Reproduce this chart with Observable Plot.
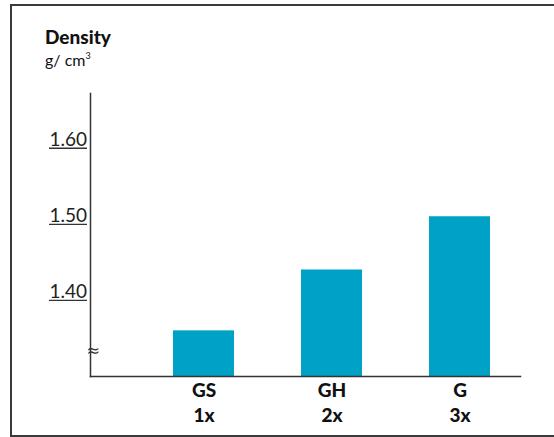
<!DOCTYPE html>
<html>
<head>
<meta charset="utf-8">
<script src="https://cdn.jsdelivr.net/npm/d3@7"></script>
<script src="https://cdn.jsdelivr.net/npm/@observablehq/plot@0.6"></script>
<style>
  html, body { margin: 0; padding: 0; background: #fff; }
  #wrap { position: relative; width: 554px; height: 437px; overflow: hidden; font-family: Lato, "Noto Sans", sans-serif; color: #111; }
  #border { position: absolute; left: 10px; top: 4px; width: 560px; height: 429px; border: 2px solid #3a3a3a; box-sizing: content-box; }
  #title { position: absolute; left: 45px; top: 27px; font-size: 19px; font-weight: 900; line-height: 1; }
  #unit { position: absolute; left: 45px; top: 51px; font-size: 16px; line-height: 1; }
  #unit sup { font-size: 9px; vertical-align: 7px; }
  #chart { position: absolute; left: 0; top: 0; }
</style>
</head>
<body>
<div id="wrap">
  <div id="border"></div>
  <div id="title">Density</div>
  <div id="unit">g/ cm<sup>3</sup></div>
  <div id="chart"></div>
</div>
<script>
const categories = ["GS", "GH", "G"];
const multipliers = ["1x", "2x", "3x"];
const densities = [1.36, 1.44, 1.51];
const yTicks = [1.40, 1.50, 1.60];
const yBase = 1.30;
const yTop = 1.672;
const breakValue = 1.334;

const data = categories.map((c, i) => ({cat: c, mult: multipliers[i], value: densities[i]}));

const chart = Plot.plot({
  width: 554,
  height: 437,
  marginLeft: 90,
  marginRight: 34,
  marginTop: 93,
  marginBottom: 61,
  style: {fontFamily: "Lato, 'Noto Sans', sans-serif", background: "transparent", overflow: "visible"},
  x: {type: "band", domain: categories, range: [124.3, 538.7], paddingInner: 0.525, paddingOuter: 0.375, axis: null},
  y: {domain: [yBase, yTop], axis: null},
  marks: [
    Plot.rectY(data, {x: "cat", y1: yBase, y2: "value", fill: "#00a1c7"}),
    Plot.axisY(yTicks, {tickSize: 38, dx: -3, tickFormat: () => "", label: null, stroke: "#333", strokeWidth: 1.3}),
    Plot.text(yTicks, {y: d => d, text: d => d.toFixed(2), frameAnchor: "left", textAnchor: "start", lineAnchor: "bottom", dx: -41, dy: -2, fontSize: 19, fill: "#222"}),
    Plot.frame({anchor: "left", stroke: "#333", strokeWidth: 1.5}),
    Plot.frame({anchor: "bottom", stroke: "#333", strokeWidth: 1.5}),
    Plot.text(["≈"], {y: breakValue, text: d => d, frameAnchor: "left", fontSize: 16, fontFamily: "DejaVu Sans", fill: "#333", dx: -4}),
    Plot.text(data, {x: "cat", text: d => d.cat + "\n" + d.mult, frameAnchor: "bottom", lineAnchor: "top", dy: 2, lineHeight: 1.35, fontSize: 19, fontWeight: 900, fill: "#111"})
  ]
});
document.getElementById("chart").append(chart);
</script>
</body>
</html>
